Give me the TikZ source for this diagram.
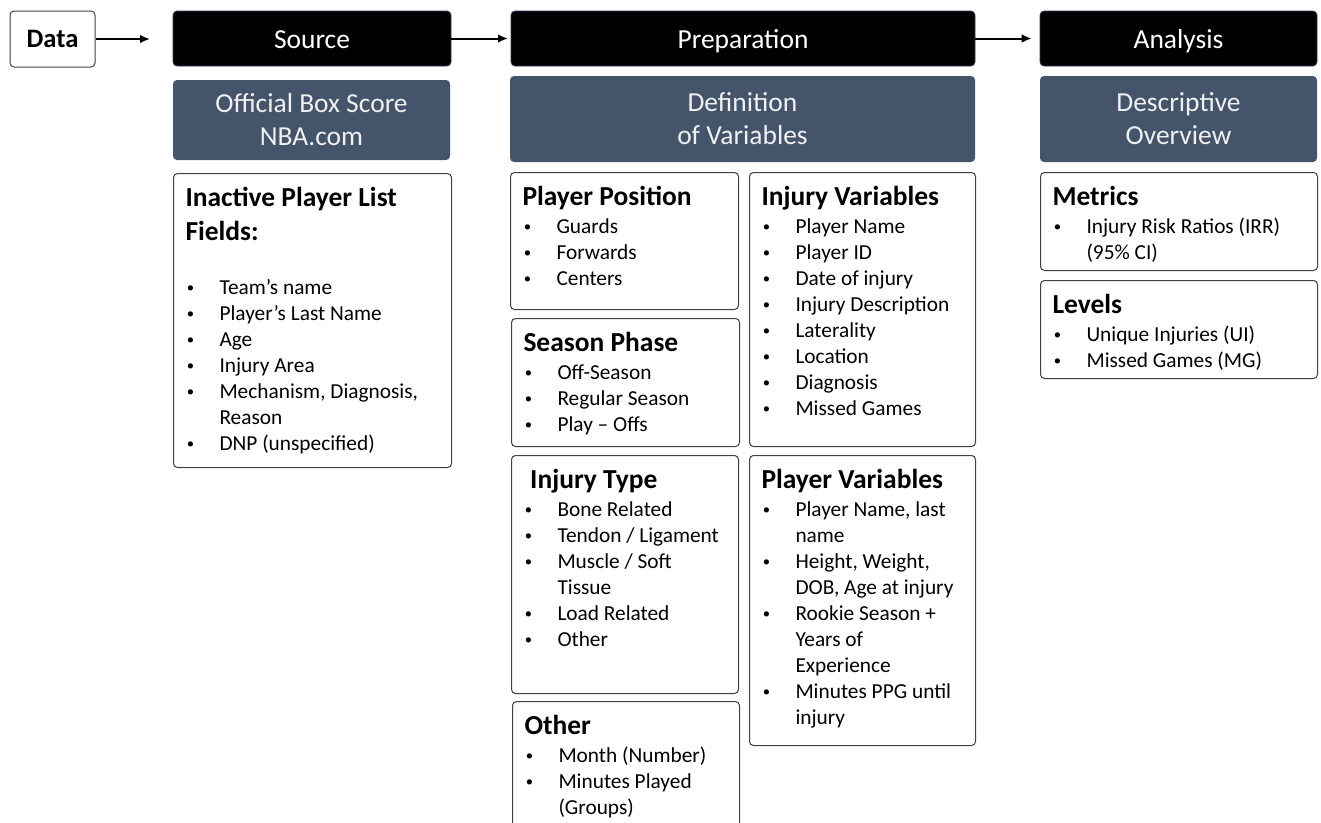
\documentclass[tikz,border=0pt]{standalone}
\usepackage{fontspec}
\setmainfont{Carlito}
\usetikzlibrary{arrows.meta}
\definecolor{slate}{HTML}{44546A}
\definecolor{edge}{HTML}{404040}
\definecolor{rim}{HTML}{2F3F5F}
\newcommand{\ttl}[1]{{\noindent\fontsize{20.6}{25.5}\selectfont\bfseries\rule{0pt}{24.4pt}#1\par}\vspace{1.5pt}}
\newcommand{\bulletmark}{\raisebox{1.2pt}{\fontsize{11}{11}\selectfont\textbullet}}
\newcommand{\bul}[1]{\par\hangindent=25.5pt\hangafter=1\noindent\makebox[25.5pt][l]{\hspace{1pt}\bulletmark}#1\par}
\newcommand{\panelbody}[3]{\parbox[c][#2][t]{#1}{\raggedright\fontsize{16}{19.5}\selectfont #3}}
\tikzset{
  start/.style={draw=edge, line width=0.75pt, rounded corners=3pt, minimum width=63.75pt, minimum height=42pt, font=\fontsize{20}{24}\selectfont\bfseries},
  stage/.style={fill=black, draw=rim, line width=0.5pt, rounded corners=3pt, text=white, minimum height=41.25pt, text height=16pt, text depth=1.5pt, font=\fontsize{20.6}{24}\selectfont},
  topic/.style={fill=slate, rounded corners=3pt, text=white!94!black, align=center, font=\fontsize{20.6}{24.75}\selectfont},
  panel/.style={draw=edge, line width=0.75pt, rounded corners=3pt, anchor=north west, inner xsep=9pt, inner ysep=0pt},
  flow/.style={-{Latex[length=7.5pt,width=6.5pt]}, line width=1.5pt}
}
\begin{document}
\begin{tikzpicture}[x=0.75pt,y=-0.75pt]
\useasboundingbox (0,0) rectangle (1321,822);
\clip (0,0) rectangle (1321,822);
\node[start] (data) at (52.5,39) {Data};
\node[stage, minimum width=208.5pt] (source) at (312,38.5) {Source};
\node[stage, minimum width=348pt] (prep) at (743,38.5) {Preparation};
\node[stage, minimum width=207.75pt] (analysis) at (1178.5,38.5) {Analysis};
\node[topic, minimum width=207.75pt, minimum height=60pt] (boxscore) at (311.5,120) {Official Box Score\\NBA.com};
\node[topic, minimum width=348.75pt, minimum height=64.5pt] (definition) at (742.5,119) {Definition\\of Variables};
\node[topic, minimum width=207.75pt, minimum height=64.5pt] (overview) at (1178.5,119) {Descriptive\\Overview};
\coordinate (dataend) at (150,39);
\draw[flow] (data) -- (dataend);
\draw[flow, shorten >=2pt] (source) -- (prep);
\draw[flow, shorten >=6pt] (prep) -- (analysis);
\node[panel] (inactive) at (173,173) {\panelbody{190.5pt}{220.5pt}{\ttl{Inactive Player List\\Fields:}\vspace{19.5pt}
  \bul{Team's name}\bul{Player's Last Name}\bul{Age}\bul{Injury Area}\bul{Mechanism, Diagnosis,\newline Reason}\bul{DNP (unspecified)}}};
\node[panel] (position) at (510,172) {\panelbody{153pt}{102.75pt}{\ttl{Player Position}
  \bul{Guards}\bul{Forwards}\bul{Centers}}};
\node[panel] (injuryvars) at (749,172) {\panelbody{151.5pt}{205.5pt}{\ttl{Injury Variables}
  \bul{Player Name}\bul{Player ID}\bul{Date of injury}\bul{Injury Description}\bul{Laterality}\bul{Location}\bul{Diagnosis}\bul{Missed Games}}};
\node[panel] (season) at (511,318) {\panelbody{153pt}{96pt}{\ttl{Season Phase}
  \bul{Off-Season}\bul{Regular Season}\bul{Play -- Offs}}};
\node[panel] (injurytype) at (511,455) {\panelbody{152.25pt}{178.5pt}{\ttl{\hspace*{5pt}Injury Type}
  \bul{Bone Related}\bul{Tendon / Ligament}\bul{Muscle / Soft\newline Tissue}\bul{Load Related}\bul{Other}}};
\node[panel] (playervars) at (749,455) {\panelbody{151.5pt}{217.5pt}{\ttl{Player Variables}
  \bul{Player Name, last\newline name}\bul{Height, Weight,\newline DOB, Age at injury}\bul{Rookie Season +\newline Years of\newline Experience}\bul{Minutes PPG until\newline injury}}};
\node[panel] (other) at (512,701) {\panelbody{152.25pt}{97.5pt}{\ttl{Other}
  \bul{Month (Number)}\bul{Minutes Played\newline (Groups)}}};
\node[panel] (metrics) at (1040,172) {\panelbody{189.75pt}{73.5pt}{\ttl{Metrics}
  \bul{Injury Risk Ratios (IRR)\newline (95\% CI)}}};
\node[panel] (levels) at (1040,280) {\panelbody{189.75pt}{73.5pt}{\ttl{Levels}
  \bul{Unique Injuries (UI)}\bul{Missed Games (MG)}}};
\end{tikzpicture}
\end{document}
